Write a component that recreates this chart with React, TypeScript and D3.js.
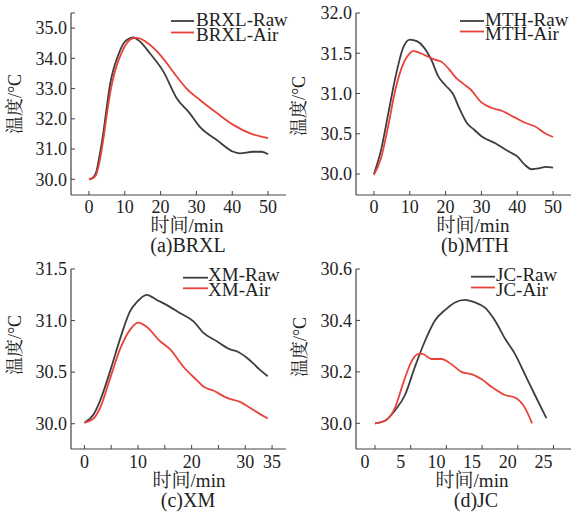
import React from "react";
import * as d3 from "d3";

// ---------- data ----------
const brxlRawT = [0, 1, 2, 3, 4, 5, 6, 7, 8, 9, 10, 11, 12.4, 14.2, 17.0, 20.8, 24.5, 28.1, 30.9, 35.7, 40.3, 42.1, 45.8, 48.2, 50];
const brxlRawV = [30.0, 30.04, 30.22, 30.8, 31.52, 32.4, 33.2, 33.7, 34.05, 34.35, 34.55, 34.64, 34.69, 34.56, 34.17, 33.56, 32.68, 32.19, 31.74, 31.3, 30.91, 30.86, 30.91, 30.91, 30.83];
const brxlAirT = [0, 1, 2, 3, 4, 5, 6, 7, 8, 9, 10, 11, 12, 13.5, 17, 20.3, 24.5, 27.2, 30.9, 35.7, 40.3, 45, 50];
const brxlAirV = [30.0, 30.03, 30.15, 30.6, 31.3, 32.15, 32.9, 33.45, 33.85, 34.15, 34.4, 34.56, 34.65, 34.68, 34.45, 34.06, 33.4, 33.01, 32.63, 32.19, 31.8, 31.52, 31.36];

const mthRawT = [0, 2, 4, 6, 8, 10, 12, 14, 16, 18, 20, 22, 24, 26, 28, 30, 34, 38, 40, 42, 44, 46, 48, 50];
const mthRawV = [30.0, 30.3, 30.75, 31.2, 31.55, 31.67, 31.65, 31.57, 31.42, 31.21, 31.1, 31.0, 30.8, 30.63, 30.55, 30.47, 30.38, 30.27, 30.22, 30.12, 30.06, 30.07, 30.09, 30.08];
const mthAirT = [0, 2, 4, 6, 8, 10, 11, 13, 15, 17, 19, 21, 23, 25, 27, 30, 33, 36, 39, 42, 45, 48, 50];
const mthAirV = [29.99, 30.2, 30.6, 31.05, 31.35, 31.5, 31.53, 31.5, 31.46, 31.42, 31.39, 31.3, 31.19, 31.12, 31.05, 30.89, 30.82, 30.78, 30.71, 30.64, 30.59, 30.5, 30.46];

const xmRawT = [0, 1.7, 2.9, 4.8, 6.7, 8.5, 9.8, 11.6, 13.5, 15.4, 17.9, 20.4, 22.2, 24.7, 27.2, 28.5, 30.3, 32.8, 34.2];
const xmRawV = [30.01, 30.09, 30.22, 30.51, 30.83, 31.09, 31.18, 31.25, 31.2, 31.15, 31.07, 30.99, 30.88, 30.8, 30.72, 30.7, 30.64, 30.52, 30.46];
const xmAirT = [0, 1.7, 2.9, 4.8, 6.7, 8.5, 10, 11.6, 14.1, 16, 18.5, 21, 22.2, 24.1, 26.6, 29.1, 31.6, 34.2];
const xmAirV = [30.01, 30.05, 30.15, 30.44, 30.73, 30.91, 30.98, 30.94, 30.8, 30.72, 30.55, 30.42, 30.36, 30.32, 30.25, 30.21, 30.13, 30.05];

const jcRawT = [0, 1.4, 2.8, 4.2, 5.6, 7, 8.4, 9.8, 11.2, 12.6, 14, 15.4, 16.8, 18.2, 19.6, 21, 22.4, 24];
const jcRawV = [30.0, 30.01, 30.05, 30.11, 30.22, 30.32, 30.4, 30.44, 30.47, 30.48, 30.47, 30.45, 30.4, 30.33, 30.27, 30.19, 30.11, 30.02];
const jcAirT = [0, 1.4, 2.8, 4, 5.1, 6.1, 6.6, 7.9, 9.3, 10.7, 12.1, 13.6, 15, 16.4, 18.2, 19.6, 21, 22];
const jcAirV = [30.0, 30.01, 30.06, 30.16, 30.24, 30.27, 30.27, 30.25, 30.25, 30.23, 30.2, 30.19, 30.17, 30.14, 30.11, 30.1, 30.06, 30.0];

const brxlXTicks = [0, 10, 20, 30, 40, 50];
const brxlYTicks = [30, 31, 32, 33, 34, 35, 35.5];
const brxlYLabels = [30, 31, 32, 33, 34, 35];
const mthXTicks = [0, 10, 20, 30, 40, 50];
const mthYTicks = [30, 30.5, 31, 31.5, 32];
const xmXTicks = [0, 5, 10, 15, 20, 25, 30, 35];
const xmXLabels = [0, 10, 20, 30, 35];
const xmYTicks = [30, 30.5, 31, 31.5];
const jcXTicks = [0, 5, 10, 15, 20, 25];
const jcYTicks = [30, 30.2, 30.4, 30.6];

const names = ["BRXL", "MTH", "XM", "JC"];
const captions = ["(a)BRXL", "(b)MTH", "(c)XM", "(d)JC"];

const RAW_COLOR = "#3d3d3d";
const AIR_COLOR = "#e8423a";
const FONT = '"Liberation Serif", "Noto Serif CJK SC", "Noto Sans CJK SC", serif';

type PanelCfg = {
  left: number; right: number; top: number; bottom: number;
  xDomain: [number, number]; yDomain: [number, number];
  xTicks: number[]; xLabels: number[]; yTicks: number[]; yLabels: number[];
  yFmt: (v: number) => string; xLabelDx: number;
  rawT: number[]; rawV: number[]; airT: number[]; airV: number[];
  name: string; caption: string;
  legX1: number; legX2: number; legY: [number, number]; legTextX: number; legTextY: [number, number];
  yTitleX: number; yTitleY: number; xTitleX: number; xTitleY: number; capX: number; capY: number;
  tickLabelY: number;
};

function Panel({ c }: { c: PanelCfg }) {
  const x = d3.scaleLinear().domain(c.xDomain).range([c.left, c.right]);
  const y = d3.scaleLinear().domain(c.yDomain).range([c.bottom, c.top]);
  const line = d3
    .line<[number, number]>()
    .x((d) => x(d[0]))
    .y((d) => y(d[1]))
    .curve(d3.curveMonotoneX);
  const raw = c.rawT.map((t, i) => [t, c.rawV[i]] as [number, number]);
  const air = c.airT.map((t, i) => [t, c.airV[i]] as [number, number]);
  const tk = 4;
  const ts = { fontFamily: FONT };
  return (
    <g fill="#222" style={ts}>
      <path d={line(raw) || ""} fill="none" stroke={RAW_COLOR} strokeWidth={1.8} />
      <path d={line(air) || ""} fill="none" stroke={AIR_COLOR} strokeWidth={1.8} />
      <line x1={c.left} x2={c.left} y1={c.top} y2={c.bottom} stroke="#444" strokeWidth={1.2} />
      <line x1={c.left} x2={c.right} y1={c.bottom} y2={c.bottom} stroke="#444" strokeWidth={1.2} />
      {c.yTicks.map((v) => (
        <line key={"yt" + v} x1={c.left} x2={c.left + tk} y1={y(v)} y2={y(v)} stroke="#444" strokeWidth={1} />
      ))}
      {c.yLabels.map((v) => (
        <text key={"yl" + v} x={c.left - 4} y={y(v)} dy="0.35em" textAnchor="end" fontSize={18} style={ts}>
          {c.yFmt(v)}
        </text>
      ))}
      {c.xTicks.map((v) => (
        <line key={"xt" + v} x1={x(v)} x2={x(v)} y1={c.bottom} y2={c.bottom - tk} stroke="#444" strokeWidth={1} />
      ))}
      {c.xLabels.map((v) => (
        <text key={"xl" + v} x={x(v) + c.xLabelDx} y={c.tickLabelY} textAnchor="middle" fontSize={18} style={ts}>
          {v}
        </text>
      ))}
      <text
        transform={`translate(${c.yTitleX},${c.yTitleY}) rotate(-90)`}
        textAnchor="middle"
        dy="0.35em"
        fontSize={18}
        style={ts}
      >
        温度/°C
      </text>
      <text x={c.xTitleX} y={c.xTitleY} textAnchor="middle" fontSize={19} style={ts}>
        时间/min
      </text>
      <text x={c.capX} y={c.capY} textAnchor="middle" fontSize={20} style={ts}>
        {c.caption}
      </text>
      <line x1={c.legX1} x2={c.legX2} y1={c.legY[0]} y2={c.legY[0]} stroke={RAW_COLOR} strokeWidth={1.8} />
      <line x1={c.legX1} x2={c.legX2} y1={c.legY[1]} y2={c.legY[1]} stroke={AIR_COLOR} strokeWidth={1.8} />
      <text x={c.legTextX} y={c.legTextY[0]} fontSize={19} style={ts}>{c.name}-Raw</text>
      <text x={c.legTextX} y={c.legTextY[1]} fontSize={19} style={ts}>{c.name}-Air</text>
    </g>
  );
}

export default function App() {
  const f1 = (v: number) => v.toFixed(1);
  const panels: PanelCfg[] = [
    {
      left: 71, right: 286, top: 13, bottom: 195,
      xDomain: [-5, 55], yDomain: [29.48, 35.5],
      xTicks: brxlXTicks, xLabels: brxlXTicks, yTicks: brxlYTicks, yLabels: brxlYLabels,
      yFmt: f1, xLabelDx: 0,
      rawT: brxlRawT, rawV: brxlRawV, airT: brxlAirT, airV: brxlAirV,
      name: names[0], caption: captions[0],
      legX1: 171, legX2: 194, legY: [21, 32.5], legTextX: 196, legTextY: [26, 40.5],
      yTitleX: 15, yTitleY: 104, xTitleX: 187, xTitleY: 232, capX: 188, capY: 252,
      tickLabelY: 213,
    },
    {
      left: 356, right: 571, top: 13, bottom: 195,
      xDomain: [-5, 55], yDomain: [29.74, 32.0],
      xTicks: mthXTicks, xLabels: mthXTicks, yTicks: mthYTicks, yLabels: mthYTicks,
      yFmt: f1, xLabelDx: 0,
      rawT: mthRawT, rawV: mthRawV, airT: mthAirT, airV: mthAirV,
      name: names[1], caption: captions[1],
      legX1: 460, legX2: 484, legY: [21, 31.5], legTextX: 485, legTextY: [26, 40],
      yTitleX: 299, yTitleY: 106, xTitleX: 473, xTitleY: 232, capX: 475, capY: 252,
      tickLabelY: 213,
    },
    {
      left: 71, right: 286, top: 269, bottom: 449,
      xDomain: [-2.5, 37.6], yDomain: [29.755, 31.5],
      xTicks: xmXTicks, xLabels: xmXLabels, yTicks: xmYTicks, yLabels: xmYTicks,
      yFmt: f1, xLabelDx: 0,
      rawT: xmRawT, rawV: xmRawV, airT: xmAirT, airV: xmAirV,
      name: names[2], caption: captions[2],
      legX1: 183, legX2: 208, legY: [277.7, 288.3], legTextX: 208, legTextY: [281, 295.7],
      yTitleX: 15, yTitleY: 345, xTitleX: 189, xTitleY: 487, capX: 188, capY: 507,
      tickLabelY: 468,
    },
    {
      left: 356, right: 571, top: 269, bottom: 449,
      xDomain: [-2.66, 27.45], yDomain: [29.9, 30.6],
      xTicks: jcXTicks, xLabels: jcXTicks, yTicks: jcYTicks, yLabels: jcYTicks,
      yFmt: f1, xLabelDx: -10,
      rawT: jcRawT, rawV: jcRawV, airT: jcAirT, airV: jcAirV,
      name: names[3], caption: captions[3],
      legX1: 471, legX2: 495, legY: [276.7, 287.5], legTextX: 496, legTextY: [280.5, 295.7],
      yTitleX: 299.5, yTitleY: 347, xTitleX: 472, xTitleY: 487, capX: 476, capY: 507,
      tickLabelY: 468,
    },
  ];
  return (
    <svg
      width={571}
      height={514}
      style={{ position: "absolute", left: 0, top: 0, background: "#fff" }}
    >
      <rect width={571} height={514} fill="#fff" />
      {panels.map((p, i) => (
        <Panel key={i} c={p} />
      ))}
    </svg>
  );
}
